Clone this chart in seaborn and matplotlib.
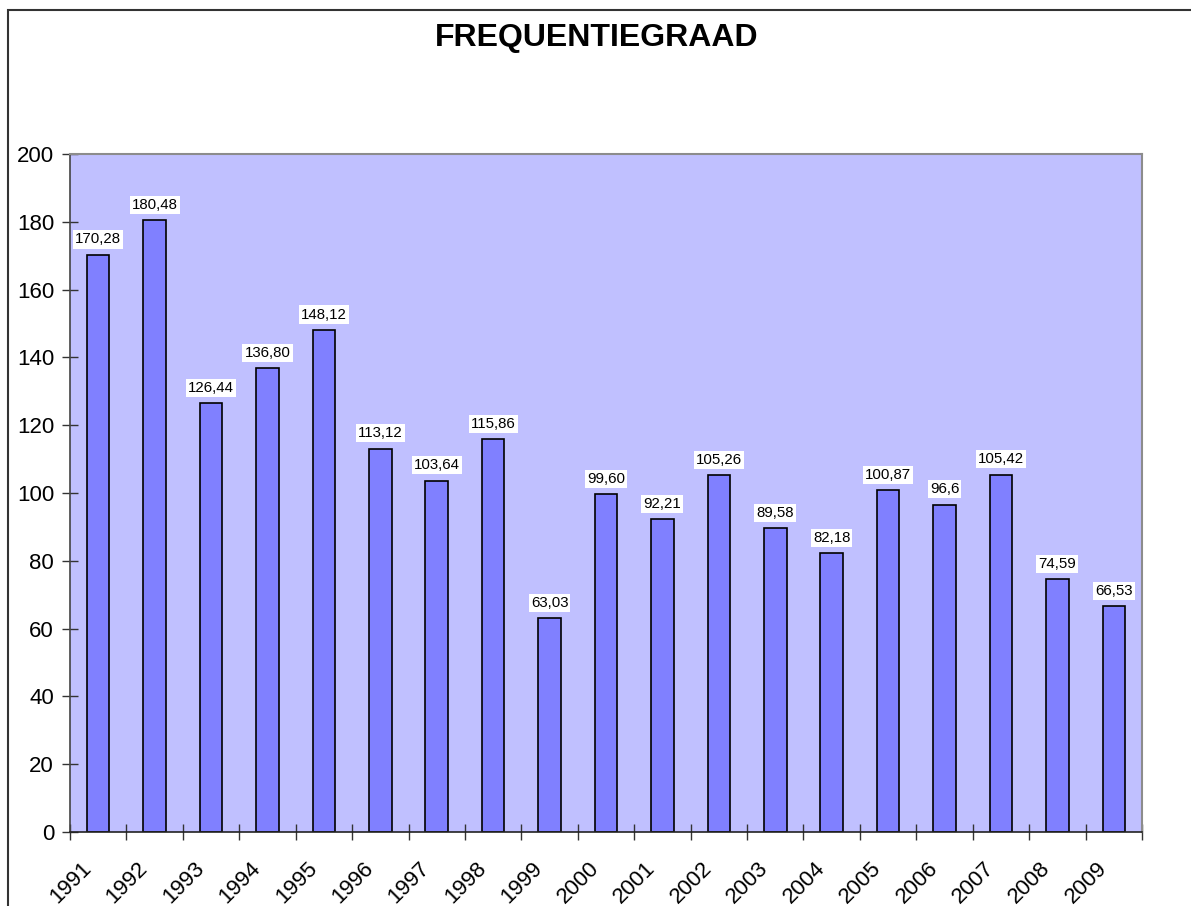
import matplotlib
matplotlib.use("Agg")
import matplotlib.pyplot as plt
import matplotlib.patches as patches
from matplotlib.transforms import ScaledTranslation
import numpy as np
import pandas as pd
import seaborn as sns

# Data
years = ["1991", "1992", "1993", "1994", "1995", "1996", "1997", "1998", "1999", "2000",
         "2001", "2002", "2003", "2004", "2005", "2006", "2007", "2008", "2009"]
values = [170.28, 180.48, 126.44, 136.80, 148.12, 113.12, 103.64, 115.86, 63.03, 99.60,
          92.21, 105.26, 89.58, 82.18, 100.87, 96.6, 105.42, 74.59, 66.53]
value_labels = ["170,28", "180,48", "126,44", "136,80", "148,12", "113,12", "103,64", "115,86",
                "63,03", "99,60", "92,21", "105,26", "89,58", "82,18", "100,87", "96,6",
                "105,42", "74,59", "66,53"]
title = "FREQUENTIEGRAAD"

sns.set_style("white")
plt.rcParams["font.family"] = ["Liberation Sans", "DejaVu Sans"]
plt.rcParams.update({
    "text.color": "black",
    "xtick.color": "black",
    "ytick.color": "black",
})

df = pd.DataFrame({"year": years, "value": values})

fig = plt.figure(figsize=(11.91, 9.06), dpi=100)
ax = fig.add_axes([70 / 1191, 74 / 906, 1072 / 1191, 678 / 906])
ax.set_facecolor("#C0C0FF")

sns.barplot(data=df, x="year", y="value", ax=ax, color="#8080FF", saturation=1,
            width=0.4, edgecolor="black", linewidth=1.2)

ax.bar_label(ax.containers[0], labels=value_labels, padding=6, fontsize=10.8, color="black",
             bbox=dict(facecolor="white", edgecolor="none", pad=1.5))

ax.set_xlim(-0.5, len(years) - 0.5)
ax.set_ylim(0, 200)
ax.set_yticks(np.arange(0, 201, 20))
ax.set_xlabel("")
ax.set_ylabel("")

# tick marks between categories, labels at the centres
ax.set_xticks(range(len(years)))
ax.set_xticks(np.arange(-0.5, len(years), 1.0), minor=True)
ax.tick_params(axis="x", which="minor", bottom=True, direction="inout", length=11,
               width=1, color="#333333")
ax.tick_params(axis="x", which="major", bottom=True, length=0, pad=24, labelsize=16,
               labelcolor="black")
ax.tick_params(axis="y", which="major", left=True, direction="inout", length=11, width=1,
               color="#333333", pad=6, labelsize=16, labelcolor="black")
ax.set_xticklabels(years, rotation=45, ha="right", va="center", rotation_mode="anchor")
for lab in ax.get_xticklabels():
    lab.set_transform(lab.get_transform() + ScaledTranslation(-0.1, 0, fig.dpi_scale_trans))

for side in ["top", "right"]:
    ax.spines[side].set_visible(True)
    ax.spines[side].set_color("#8C8C8C")
    ax.spines[side].set_linewidth(1.5)
ax.spines["left"].set_color("#444444")
ax.spines["left"].set_linewidth(1.2)
ax.spines["bottom"].set_color("#222222")
ax.spines["bottom"].set_linewidth(1.2)

fig.text(0.501, 1 - 38 / 906, title, ha="center", va="center", fontsize=23,
         fontweight="bold", color="black")

# outer chart frame (right and bottom edges fall outside the image)
frame = patches.Rectangle((8 / 1191, -0.1), 1.2, 1.1 - 10 / 906, transform=fig.transFigure,
                          fill=False, edgecolor="#333333", linewidth=1.5, clip_on=False)
fig.patches.append(frame)

fig.savefig("out.png", dpi=100)
